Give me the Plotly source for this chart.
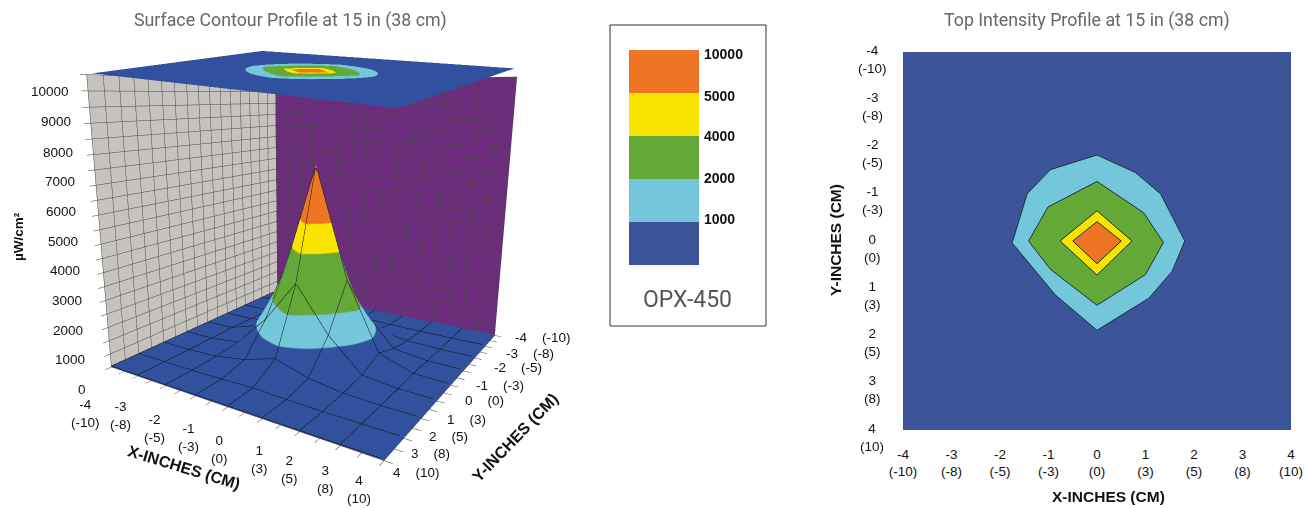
import plotly.graph_objects as go

# ---------- data ----------
grid_in = [-4, -3, -2, -1, 0, 1, 2, 3, 4]
cm_vals = [-10, -8, -5, -3, 0, 3, 5, 8, 10]
z_ticks = [0, 1000, 2000, 3000, 4000, 5000, 6000, 7000, 8000, 9000, 10000]
intensity = [
    [40, 40, 40, 40, 40, 40, 40, 40, 40],
    [40, 40, 40, 60, 80, 60, 40, 40, 40],
    [40, 40, 80, 200, 620, 250, 80, 40, 40],
    [40, 60, 180, 1480, 3000, 1500, 220, 60, 40],
    [40, 80, 440, 3000, 7000, 3000, 520, 80, 40],
    [40, 60, 180, 1400, 3000, 1350, 200, 60, 40],
    [40, 40, 90, 280, 640, 260, 90, 40, 40],
    [40, 40, 40, 60, 100, 60, 40, 40, 40],
    [40, 40, 40, 40, 40, 40, 40, 40, 40],
]
plate_height = [[10000] * 9 for _ in grid_in]
legend_levels = ["10000", "5000", "4000", "2000", "1000"]

c1000_x = [0, 0.79, 1.31, 1.81, 1.55, 1.07, 0, -0.86, -1.75, -1.44, -0.96]
c1000_y = [-1.82, -1.45, -1.0, 0, 0.64, 1.21, 1.89, 1.14, 0.04, -1.0, -1.51]
c2000_x = [0, 0.96, 1.37, 1.0, 0, -0.96, -1.41, -1.01]
c2000_y = [-1.26, -0.6, 0.03, 0.71, 1.36, 0.6, 0, -0.72]
c4000_x = [0, 0.72, 0, -0.76]
c4000_y = [-0.64, 0, 0.72, 0]
c5000_x = [0, 0.5, 0, -0.5]
c5000_y = [-0.41, 0, 0.48, 0]

# ---------- styling ----------
BLUE, LBLUE, GREEN, YELLOW, ORANGE = "#3c5499", "#74c7da", "#64a838", "#f9e300", "#ee7524"
BLUE3D, PURPLE, GREY = "#31509e", "#6c2d7c", "#c6c3be"
legend_colors = [ORANGE, YELLOW, GREEN, LBLUE, BLUE]
W, H = 1309, 508
SW = 600

# box camera and the separate camera of the top plate
cam_box = dict(eye=dict(x=1.0544, y=-1.7342, z=0.4147), center=dict(x=-1.0282, y=1.4997, z=-0.59),
               up=dict(x=0, y=0, z=1), projection=dict(type="perspective"))
cam_plate = dict(eye=dict(x=1.0695, y=-1.6176, z=0.2383), center=dict(x=0.6336, y=-0.9791, z=-0.1001),
                 up=dict(x=0, y=0, z=1), projection=dict(type="perspective"))

colorscale = [[0, BLUE3D], [.1, BLUE3D], [.1, LBLUE], [.2, LBLUE], [.2, GREEN], [.4, GREEN],
              [.4, YELLOW], [.5, YELLOW], [.5, ORANGE], [1, ORANGE]]
flat = dict(ambient=1, diffuse=0, specular=0, roughness=1, fresnel=0)
wire = dict(show=True, start=-4, end=4, size=1, color="#111111", width=4, highlight=False)

# the picture's Y axis runs towards the viewer, so the scene's y is the negated value
scene_y = [-g for g in grid_in][::-1]
scene_z = intensity[::-1]

fig = go.Figure()
fig.add_trace(go.Surface(x=grid_in, y=scene_y, z=scene_z, surfacecolor=scene_z, cmin=0, cmax=10000,
                         colorscale=colorscale, showscale=False, lighting=flat, hoverinfo="skip",
                         contours=dict(x=wire, y=wire), scene="scene"))
fig.add_trace(go.Surface(x=grid_in, y=scene_y, z=plate_height, surfacecolor=scene_z, cmin=0, cmax=10000,
                         colorscale=colorscale, showscale=False, lighting=flat, hoverinfo="skip", scene="scene2"))

for xs, ys, col in [(c1000_x, c1000_y, LBLUE), (c2000_x, c2000_y, GREEN), (c4000_x, c4000_y, YELLOW), (c5000_x, c5000_y, ORANGE)]:
    fig.add_trace(go.Scatter(x=xs + xs[:1], y=ys + ys[:1], mode="lines", fill="toself", fillcolor=col,
                             line=dict(color="#17343a", width=1), hoverinfo="skip", xaxis="x2", yaxis="y2", showlegend=False))

for c in legend_colors[::-1]:
    fig.add_trace(go.Bar(x=[0], y=[1], marker=dict(color=c, line=dict(width=0)), width=1, hoverinfo="skip",
                         xaxis="x3", yaxis="y3", showlegend=False))

FONT = "Liberation Sans"
NARROW = "Roboto"
scene_ann = []
tf = dict(family=FONT, size=13.5, color="#111")
x_dx = [-3, 6, 12, 16, 15, 20, 13, 8, -2]
x_dy = [12, 5, 8, 7, 8, 6, 3, -1, -6]
y_dx = [13, 10, 8, 2, -1, -5, -8, -8, -2]
y_dy = [0, 3, 3, 6, 5, 6, 3, -2, -7]
z_dy = [13, 9, 6, 4, 2, 2, 1, 2, 4, 4, 7]
for i, (g, cm) in enumerate(zip(grid_in, cm_vals)):
    scene_ann.append(dict(x=g, y=-4, z=0, text=f"{g}<br>({cm})", showarrow=False, font=tf, xshift=-23 + x_dx[i], yshift=-35 - x_dy[i], align="center"))
    t = (g + 4) / 8
    scene_ann.append(dict(x=4, y=-g, z=0, text=f"{g}&nbsp;&nbsp;&nbsp;&nbsp;({cm})", showarrow=False, font=tf, xshift=35 + y_dx[i], yshift=-(2 + 17 * t) - y_dy[i]))
for i, z in enumerate(z_ticks):
    scene_ann.append(dict(x=-4, y=-4, z=z, text=str(z), showarrow=False, font=tf, xanchor="right", xshift=-23 + 7 * z / 10000, yshift=-10 - z_dy[i]))

paper = []


def pa(x, y, text, size, color="#111", family=FONT, bold=False, angle=0):
    paper.append(dict(x=x / W, y=1 - y / H, xref="paper", yref="paper", text=f"<b>{text}</b>" if bold else text, showarrow=False,
                      font=dict(family=family, size=size, color=color), textangle=angle, xanchor="center", yanchor="middle"))


pa(290, 20, "Surface Contour Profile at 15 in (38 cm)", 17.8, "#6b6561", NARROW)
pa(1087, 20, "Top Intensity Profile at 15 in (38 cm)", 17.8, "#6b6561", NARROW)
pa(687, 299, "OPX-450", 23, "#5a5552", NARROW)
pa(184, 467, "X-INCHES (CM)", 16, bold=True, angle=17)
pa(515, 437, "Y-INCHES (CM)", 16, bold=True, angle=-46)
pa(1108, 496, "X-INCHES (CM)", 15.5, bold=True)
pa(835, 240, "Y-INCHES (CM)", 15.5, bold=True, angle=-90)
pa(18, 237, "µW/cm²", 13.5, bold=True, angle=-90)
for lab, y in zip(legend_levels, [54, 96, 136, 178, 219]):
    paper.append(dict(x=702 / W, y=1 - y / H, xref="paper", yref="paper", text=f"<b>{lab}</b>", showarrow=False,
                      font=dict(family=FONT, size=14, color="#111"), xanchor="left", yanchor="middle"))
for g, cm in zip(grid_in, cm_vals):
    paper.append(dict(x=872 / W, y=g, xref="paper", yref="y2", text=f"{g}<br>({cm})", showarrow=False, font=tf, align="center",
                      xanchor="center", yanchor="middle", yshift=-7))

ax3 = dict(showspikes=False, showticklabels=False, title=dict(text=""), showline=False, zeroline=False, showbackground=True,
           gridcolor="#444", gridwidth=1, ticks="outside", ticklen=6, tickcolor="#333", tickwidth=1)
hid = dict(visible=False, showspikes=False, showbackground=False, showgrid=False, zeroline=False, showticklabels=False, ticks="", title=dict(text=""))
fig.update_layout(
    width=W, height=H, margin=dict(l=0, r=0, t=0, b=0, autoexpand=False), paper_bgcolor="white", plot_bgcolor=BLUE, barmode="stack", showlegend=False,
    scene=dict(domain=dict(x=[0, SW / W], y=[0, 1]), aspectmode="manual", aspectratio=dict(x=1, y=0.9735, z=0.94),
               camera=cam_box,
               xaxis=dict(ax3, range=[-4, 4], dtick=0.5, backgroundcolor=GREY),
               yaxis=dict(ax3, range=[-4, 4], dtick=0.5, backgroundcolor=PURPLE),
               zaxis=dict(ax3, range=[0, 10000], dtick=500, backgroundcolor=BLUE3D),
               annotations=scene_ann),
    scene2=dict(domain=dict(x=[0, SW / W], y=[0, 1]), aspectmode="manual", aspectratio=dict(x=1, y=0.8276, z=1), bgcolor="rgba(0,0,0,0)",
                camera=cam_plate,
                xaxis=dict(hid, range=[-4, 4]), yaxis=dict(hid, range=[-4, 4]), zaxis=dict(hid, range=[0, 20000])),
    xaxis2=dict(domain=[903 / W, 1291 / W], anchor="y2", range=[-4, 4], tickvals=grid_in, ticktext=[f"{g}<br>({c})" for g, c in zip(grid_in, cm_vals)],
                tickfont=tf, showgrid=False, zeroline=False, ticks="", ticklabelstandoff=14),
    yaxis2=dict(domain=[1 - 430 / H, 1 - 52 / H], anchor="x2", range=[4, -4], showticklabels=False, showgrid=False, zeroline=False),
    xaxis3=dict(domain=[629 / W, 699 / W], anchor="y3", range=[-.5, .5], visible=False),
    yaxis3=dict(domain=[1 - 265 / H, 1 - 50 / H], anchor="x3", range=[0, 5], visible=False),
    shapes=[dict(type="rect", xref="paper", yref="paper", x0=610 / W, x1=766 / W, y0=1 - 326 / H, y1=1 - 25 / H, line=dict(color="#333", width=1))],
    annotations=paper,
)
fig.write_html("out.html", post_script="document.body.style.margin='0';", config=dict(displayModeBar=False))
